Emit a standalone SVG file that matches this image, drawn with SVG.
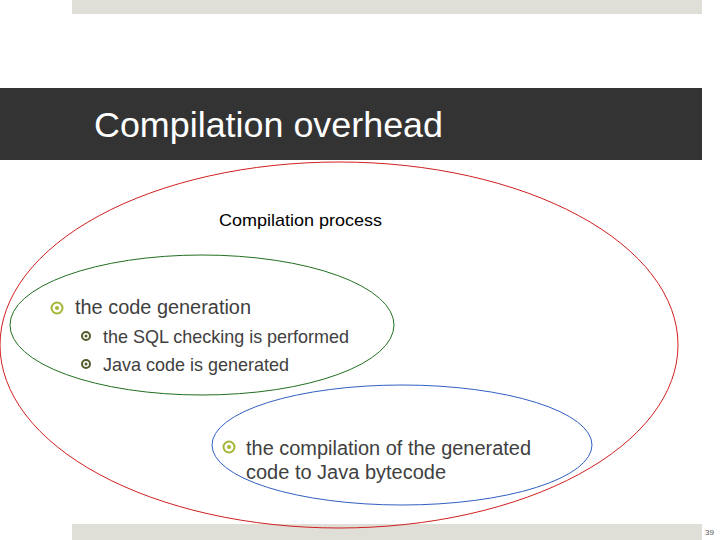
<svg xmlns="http://www.w3.org/2000/svg" width="720" height="540" viewBox="0 0 720 540">
<style>
text{font-family:"Liberation Sans",Arial,sans-serif;fill:#404040}
.b{fill:none;stroke:#a5b534;stroke-width:2}
.bd{fill:#a5b534}
.s{fill:none;stroke:#555a2a;stroke-width:2}
.sd{fill:#555a2a}
</style>
<rect width="720" height="540" fill="#fff"/>
<rect x="72" y="0" width="630" height="14" fill="#dfdfd8"/>
<rect x="72" y="524" width="630" height="16" fill="#dfdfd8"/>
<text x="705" y="535" font-size="8" style="fill:#555">39</text>
<rect x="0" y="88" width="702" height="72" fill="#333333"/>
<text x="94" y="137" font-size="34.5" textLength="349" lengthAdjust="spacingAndGlyphs" style="fill:#fff">Compilation overhead</text>
<g id="connectors"></g>
<g id="process">
<ellipse cx="339" cy="345" rx="339" ry="183" fill="none" stroke="#d02020" stroke-width="1"/>
<text x="219" y="226" font-size="17" textLength="163" lengthAdjust="spacingAndGlyphs" style="fill:#000">Compilation process</text>
</g>
<g id="codegen">
<ellipse cx="202" cy="325" rx="192" ry="70" fill="none" stroke="#207020" stroke-width="1"/>
<circle cx="57" cy="308" r="5.5" class="b"/><circle cx="57" cy="308" r="2" class="bd"/>
<text x="75" y="314" font-size="19.6" textLength="176" lengthAdjust="spacingAndGlyphs">the code generation</text>
<circle cx="86" cy="336" r="4" class="s"/><circle cx="86" cy="336" r="1.5" class="sd"/>
<text x="103" y="343" font-size="17.8" textLength="246" lengthAdjust="spacingAndGlyphs">the SQL checking is performed</text>
<circle cx="86" cy="364" r="4" class="s"/><circle cx="86" cy="364" r="1.5" class="sd"/>
<text x="103" y="371" font-size="17.8" textLength="186" lengthAdjust="spacingAndGlyphs">Java code is generated</text>
</g>
<g id="compile">
<ellipse cx="402" cy="445" rx="190" ry="60" fill="none" stroke="#3060c0" stroke-width="1"/>
<circle cx="229" cy="447" r="5.5" class="b"/><circle cx="229" cy="447" r="2" class="bd"/>
<text x="246" y="455" font-size="19.6" textLength="285" lengthAdjust="spacingAndGlyphs">the compilation of the generated</text>
<text x="246" y="479" font-size="19.6" textLength="200" lengthAdjust="spacingAndGlyphs">code to Java bytecode</text>
</g>
</svg>
